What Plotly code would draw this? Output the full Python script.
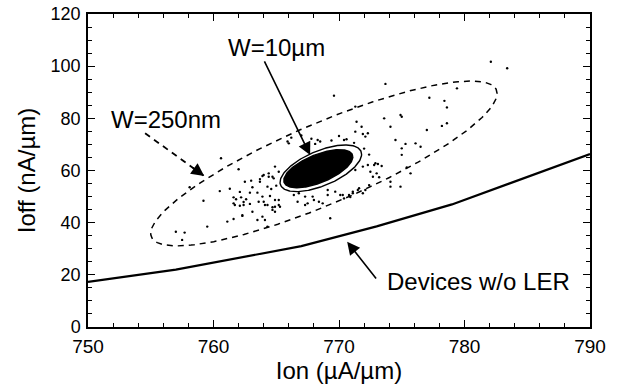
import numpy as np
import plotly.graph_objects as go

# ---------------- data ----------------
# reference curve: devices without line-edge roughness
ion_noler = [750, 757, 767, 773, 779, 790]
ioff_noler = [17.3, 22.0, 31.0, 38.6, 47.0, 66.3]

# contour ellipses: [center Ion, center Ioff, Ion half-extent, Ioff half-extent, correlation]
ell_250nm = [768.8, 62.7, 13.8, 31.6, 0.848]
ell_10um = [768.55, 60.85, 3.25, 8.95, 0.60]
blob_10um = [768.35, 60.7, 2.75, 7.3, 0.62]

# scattered device samples (W=250nm)
scatter_ion = [
    760.6, 762.0, 760.5, 761.3, 761.6, 761.8, 762.1, 762.2, 762.4, 762.6, 762.9, 762.9, 763.1, 762.5,
    763.0, 763.7, 762.1, 761.7, 759.2, 761.1, 759.5, 757.7, 757.0, 761.6, 762.3, 758.1, 763.5,
    769.6, 771.4, 771.8, 771.3, 771.9, 772.3, 768.3, 768.5, 768.1, 765.9, 766.0, 763.9, 764.4, 764.8,
    763.7, 764.3, 763.9, 764.5, 764.9, 765.2, 766.8, 767.3, 768.0, 769.1, 769.7, 770.3, 771.1, 771.6,
    772.1, 772.4, 771.3, 771.9, 767.3,
    782.1, 773.7, 779.4, 777.2, 778.4, 778.6, 773.6, 775.0, 774.1, 778.6, 778.2, 777.0, 774.5, 775.3,
    775.0, 776.5, 775.0, 772.8, 773.1, 773.4, 775.4, 772.7, 773.2, 774.1,
    772.3, 772.9, 772.5, 773.0, 764.9, 765.2, 764.4, 764.7, 764.0, 764.0, 764.3, 764.7, 764.9, 765.2,
    767.9, 768.4, 768.7, 769.1, 770.1, 770.4, 770.8, 771.1, 771.5, 771.9, 769.3, 766.7, 764.3, 764.1,
    771.3, 774.9, 770.0, 770.4, 772.1, 774.1, 774.9, 775.7, 776.1, 783.4, 757.5,
    761.6, 762.4, 763.6, 764.1, 764.7, 762.3, 763.1, 763.5, 763.9, 764.9, 765.3, 767.5,
    766.2, 767.0, 767.8, 769.4, 770.6, 771.2, 772.0, 772.4, 765.0, 764.6, 766.4, 770.9,
]
scatter_ioff = [
    64.7, 60.5, 52.1, 53.0, 49.7, 49.0, 51.8, 49.7, 47.9, 49.0, 51.5, 47.2, 53.6, 55.7,
    56.1, 56.7, 46.5, 46.8, 48.4, 40.4, 38.5, 36.2, 36.5, 41.4, 42.6, 53.6, 51.5,
    88.7, 78.7, 76.8, 74.9, 74.0, 74.3, 71.7, 71.1, 70.2, 71.1, 70.4, 57.9, 57.6, 57.0,
    55.7, 53.8, 50.0, 50.2, 48.7, 46.8, 51.3, 50.0, 48.7, 52.5, 51.9, 50.6, 51.3, 53.2,
    52.5, 54.4, 60.2, 61.5, 46.8,
    101.7, 93.2, 91.5, 87.9, 86.7, 84.2, 80.0, 80.6, 76.8, 78.1, 77.1, 75.5, 71.7, 70.2,
    68.5, 69.1, 66.0, 62.1, 62.5, 61.7, 61.2, 57.6, 57.4, 55.7,
    62.1, 62.8, 59.5, 58.9, 61.5, 59.5, 58.9, 57.6, 58.3, 48.0, 46.8, 44.9, 46.1, 48.7,
    50.0, 48.0, 47.4, 50.6, 50.6, 49.3, 50.6, 51.9, 52.5, 51.3, 41.7, 48.0, 38.5, 41.0,
    84.5, 81.3, 73.2, 71.7, 73.0, 53.8, 53.8, 58.9, 70.4, 99.2, 33.4,
    47.4, 46.8, 48.0, 46.8, 45.9, 42.9, 44.2, 41.0, 42.3, 44.2, 46.1, 47.4,
    72.6, 73.4, 72.2, 71.5, 72.0, 70.6, 68.4, 66.1, 54.2, 52.9, 50.6, 49.8,
]

# annotation texts and anchor points (data units)
label_texts = ["W=10\u00b5m", "W=250nm", "Devices w/o LER"]
label_ion = [765.05, 756.2, 781.1]
label_ioff = [107.2, 79.4, 17.3]

# arrows: tail -> head
arrow_tail_ion = [764.0, 754.55, 773.05]
arrow_tail_ioff = [102.4, 74.3, 18.0]
arrow_head_ion = [767.7, 759.26, 770.65]
arrow_head_ioff = [65.9, 57.9, 32.7]

x_ticks = [750, 760, 770, 780, 790]
y_ticks = [0, 20, 40, 60, 80, 100, 120]


def ellipse(p, n=240):
    cx, cy, ax, ay, rho = p
    t = np.linspace(0, 2 * np.pi, n)
    d = np.arccos(rho)
    return cx + ax * np.cos(t), cy + ay * np.cos(t - d)


fig = go.Figure()

# scattered samples
fig.add_trace(go.Scatter(x=scatter_ion, y=scatter_ioff, mode="markers",
                         marker=dict(size=2.4, color="black"), hoverinfo="skip"))

# dense blob of W=10um devices
bx, by = ellipse(blob_10um)
fig.add_trace(go.Scatter(x=bx, y=by, mode="lines", fill="toself", fillcolor="black",
                         line=dict(color="black", width=1.5), hoverinfo="skip"))

# contours
ox, oy = ellipse(ell_250nm)
fig.add_trace(go.Scatter(x=ox, y=oy, mode="lines",
                         line=dict(color="black", width=1.5, dash="6px,5px"), hoverinfo="skip"))
ix, iy = ellipse(ell_10um)
fig.add_trace(go.Scatter(x=ix, y=iy, mode="lines",
                         line=dict(color="black", width=1.4), hoverinfo="skip"))

# no-LER line
fig.add_trace(go.Scatter(x=ion_noler, y=ioff_noler, mode="lines",
                         line=dict(color="black", width=2.2), hoverinfo="skip"))

# dashed arrow shaft for W=250nm
fig.add_trace(go.Scatter(x=[arrow_tail_ion[1], arrow_head_ion[1]],
                         y=[arrow_tail_ioff[1], arrow_head_ioff[1]], mode="lines",
                         line=dict(color="black", width=1.8, dash="6px,5px"), hoverinfo="skip"))

annotations = []
for txt, xx, yy in zip(label_texts, label_ion, label_ioff):
    annotations.append(dict(x=xx, y=yy, xref="x", yref="y", text=txt, showarrow=False,
                            font=dict(size=24, color="black"), xanchor="center", yanchor="middle"))

for i in range(3):
    if i == 1:
        # only the arrowhead for the dashed arrow
        f = 0.22
        tx = arrow_head_ion[i] - f * (arrow_head_ion[i] - arrow_tail_ion[i])
        ty = arrow_head_ioff[i] - f * (arrow_head_ioff[i] - arrow_tail_ioff[i])
    else:
        tx, ty = arrow_tail_ion[i], arrow_tail_ioff[i]
    annotations.append(dict(x=arrow_head_ion[i], y=arrow_head_ioff[i], xref="x", yref="y",
                            ax=tx, ay=ty, axref="x", ayref="y", text="", showarrow=True,
                            arrowhead=2, arrowsize=1.6, arrowwidth=1.6, arrowcolor="black",
                            standoff=0, startstandoff=0))

axis_common = dict(showline=True, linecolor="black", linewidth=1.5, mirror="ticks",
                   ticks="inside", ticklen=7, tickwidth=1.3, tickcolor="black",
                   showgrid=False, zeroline=False, automargin=False)

fig.update_layout(
    width=619, height=390,
    margin=dict(l=88, r=29, t=14, b=63),
    paper_bgcolor="white", plot_bgcolor="white",
    showlegend=False,
    font=dict(family="Liberation Sans, Arial, sans-serif", color="black"),
    annotations=annotations,
    xaxis=dict(range=[750, 790], tickvals=x_ticks, tickfont=dict(size=19),
               title=dict(text="Ion (\u00b5A/\u00b5m)", font=dict(size=24), standoff=4),
               minor=dict(dtick=2, ticks="inside", ticklen=4, tickcolor="black", tickwidth=1),
               ticklabelstandoff=1,
               **axis_common),
    yaxis=dict(range=[0, 120], tickvals=y_ticks, tickfont=dict(size=18),
               title=dict(text="Ioff (nA/\u00b5m)", font=dict(size=24), standoff=8),
               minor=dict(dtick=5, ticks="inside", ticklen=4, tickcolor="black", tickwidth=1),
               ticklabelstandoff=2,
               **axis_common),
)

# remove the page's default body margin so the figure fills the window exactly
fig.write_html("out.html", config={"displayModeBar": False},
               post_script="document.body.style.margin='0px';document.body.style.overflow='hidden';")
